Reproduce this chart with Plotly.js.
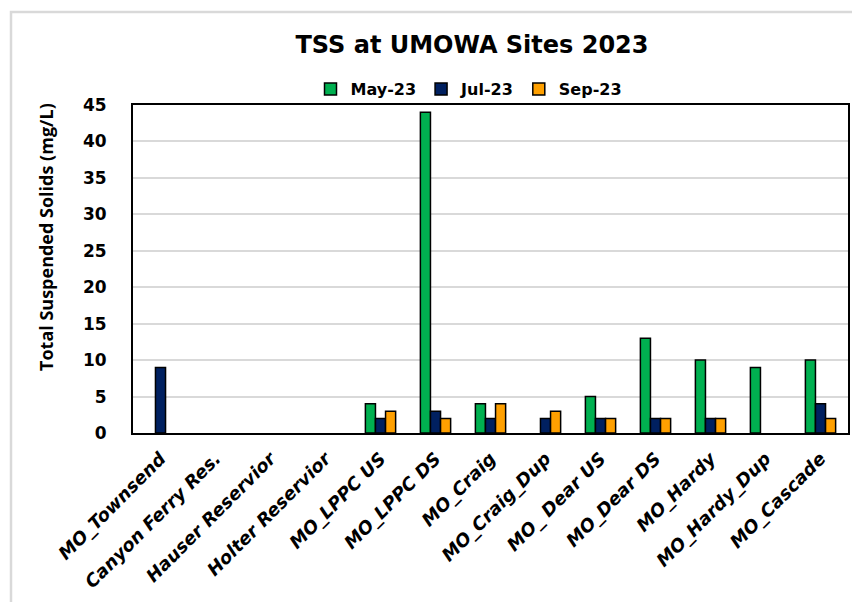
<!DOCTYPE html>
<html>
<head>
<meta charset="utf-8">
<script src="https://cdn.plot.ly/plotly-3.0.1.min.js"></script>
<style>html,body{margin:0;padding:0;background:#fff;}#chart{width:852px;height:602px;}</style>
</head>
<body>
<div id="chart"></div>
<script>
const sites = ["MO_Townsend","Canyon Ferry Res.","Hauser Reservior","Holter Reservior","MO_LPPC US","MO_LPPC DS","MO_Craig","MO_Craig_Dup","MO_ Dear US","MO_Dear DS","MO_Hardy","MO_Hardy_Dup","MO_Cascade"];
const may23 = [null,null,null,null,4,44,4,null,5,13,10,9,10];
const jul23 = [9,null,null,null,2,3,2,2,2,2,2,null,4];
const sep23 = [null,null,null,null,3,2,4,3,2,2,2,null,2];
const seriesNames = ["May-23","Jul-23","Sep-23"];
const colors = ["#00B050","#002060","#FFA000"];
const yTicks = [0,5,10,15,20,25,30,35,40,45];
const yTitle = "Total Suspended Solids (mg/L)";

const font = "DejaVu Sans, sans-serif";
const vals = [may23, jul23, sep23];
const traces = vals.map((v,i)=>({
  type:"bar", name:seriesNames[i], x:sites, y:v,
  marker:{color:colors[i], line:{color:"#000", width:1.5}}
}));

const L=133, R=848, T=105, B=433, W=852, H=602;
const pw=R-L, ph=B-T;
const px = x => (x-L)/pw;
const py = y => (B-y)/ph;

const layout = {
  width:W, height:H,
  margin:{l:L, r:W-R, t:T, b:H-B},
  paper_bgcolor:"#fff", plot_bgcolor:"#fff",
  title:{text:"<b>TSS at UMOWA Sites 2023</b>", font:{family:font, size:24, color:"#000"}, x:px(472), xref:"paper", xanchor:"center", y:1-45/H, yanchor:"middle"},
  barmode:"group", bargap:0.45, bargroupgap:0,
  showlegend:true,
  legend:{orientation:"h", x:px(469), xanchor:"center", y:py(89), yanchor:"middle", font:{family:font, size:16, color:"#000", weight:"bold"}, itemwidth:30, traceorder:"normal", bgcolor:"rgba(0,0,0,0)"},
  xaxis:{type:"category", tickangle:-45, tickfont:{family:font, size:18, color:"#000", weight:"bold", style:"italic"}, ticklabelstandoff:6, showline:true, linecolor:"#000", linewidth:2, mirror:true, ticks:"", showgrid:false, automargin:false},
  yaxis:{range:[0,45], tickvals:yTicks, ticktext:yTicks.map(String), tickfont:{family:font, size:17, color:"#000", weight:"bold"}, ticklabelstandoff:21, showline:true, linecolor:"#000", linewidth:2, mirror:true, gridcolor:"#d9d9d9", gridwidth:2, ticks:"", zeroline:false, automargin:false},
  annotations:[{text:"<b>"+yTitle+"</b>", xref:"paper", yref:"paper", x:px(46), y:py(237), xanchor:"center", yanchor:"middle", textangle:-90, showarrow:false, font:{family:"Open Sans, sans-serif", size:18, color:"#000"}}],
  shapes:[{type:"rect", xref:"paper", yref:"paper", x0:px(11), x1:px(870), y0:py(12), y1:py(640), line:{color:"#d9d9d9", width:2.5}, fillcolor:"rgba(0,0,0,0)", layer:"below"}]
};
Plotly.newPlot("chart", traces, layout, {displayModeBar:false, staticPlot:true});
</script>
</body>
</html>
